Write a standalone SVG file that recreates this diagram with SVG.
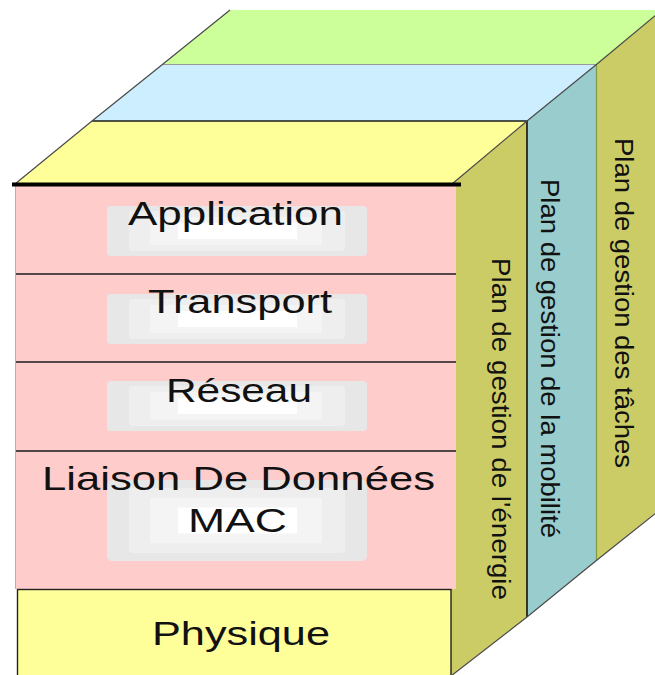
<svg xmlns="http://www.w3.org/2000/svg" xmlns:xlink="http://www.w3.org/1999/xlink" width="655" height="675" viewBox="0 0 655 675">
  <style>
    .lbl { font-family: "Liberation Sans", Arial, sans-serif; font-size: 34px; fill: #111; }
    .vlbl { font-family: "Liberation Sans", Arial, sans-serif; font-size: 25px; fill: #111; }
    .diag { fill: none; stroke: #4a4a4a; stroke-width: 1.2; }
    .sep { stroke: #1a1a1a; stroke-width: 1.3; }
  </style>
  <defs>
    <!-- soft grey plate shown behind each layer name -->
    <g id="softbox">
      <rect x="107" y="0" width="260" height="50" rx="4" fill="#e7e7e7"/>
      <rect x="129" y="5" width="216" height="40" rx="3" fill="#eeeeee"/>
      <rect x="150" y="11" width="172" height="28" rx="2" fill="#f4f4f4"/>
      <rect x="178" y="17" width="119" height="16" fill="#ffffff"/>
    </g>
  </defs>

  <rect width="655" height="675" fill="#ffffff"/>

  <!-- top faces of the three planes -->
  <polygon id="top-taches" points="163,64 230,10 662,10 597,64" fill="#ccff99"/>
  <polygon id="top-mobilite" points="92,121 163,64 597,64 527,121" fill="#cceeff"/>
  <polygon id="top-energie" points="15,184 92,121 527,121 452,184" fill="#ffff99"/>

  <!-- side planes -->
  <g id="plane-taches">
    <polygon points="597,64 662,10 655,10 655,513 597,560" fill="#cccc66"/>
    <text class="vlbl" transform="translate(615,138) rotate(90)" textLength="330" lengthAdjust="spacingAndGlyphs">Plan de gestion des tâches</text>
  </g>
  <g id="plane-mobilite">
    <polygon points="527,121 597,64 597,560 527,617" fill="#99cccc"/>
    <text class="vlbl" transform="translate(541,179) rotate(90)" textLength="359" lengthAdjust="spacingAndGlyphs">Plan de gestion de la mobilité</text>
  </g>
  <g id="plane-energie">
    <polygon points="452,184 527,121 527,617 451,676 451,184" fill="#cccc66"/>
    <text class="vlbl" transform="translate(492,258) rotate(90)" textLength="342" lengthAdjust="spacingAndGlyphs">Plan de gestion de l'énergie</text>
  </g>

  <!-- front stack of protocol layers -->
  <g id="layer-application">
    <rect x="15" y="186" width="441" height="88" fill="#ffcccc"/>
    <use xlink:href="#softbox" transform="translate(0,206)"/>
    <text class="lbl" x="128" y="225" textLength="215" lengthAdjust="spacingAndGlyphs">Application</text>
  </g>
  <g id="layer-transport">
    <rect x="15" y="274" width="441" height="88" fill="#ffcccc"/>
    <use xlink:href="#softbox" transform="translate(0,294)"/>
    <text class="lbl" x="148" y="313" textLength="184" lengthAdjust="spacingAndGlyphs">Transport</text>
  </g>
  <g id="layer-reseau">
    <rect x="15" y="362" width="441" height="89" fill="#ffcccc"/>
    <use xlink:href="#softbox" transform="translate(0,381)"/>
    <text class="lbl" x="166" y="402" textLength="146" lengthAdjust="spacingAndGlyphs">Réseau</text>
  </g>
  <g id="layer-liaison">
    <rect x="15" y="451" width="441" height="138" fill="#ffcccc"/>
    <use xlink:href="#softbox" transform="translate(0,480) scale(1,1.62)"/>
    <text class="lbl" x="42" y="490" textLength="393" lengthAdjust="spacingAndGlyphs">Liaison De Données</text>
    <text class="lbl" x="188" y="532" textLength="99" lengthAdjust="spacingAndGlyphs">MAC</text>
  </g>
  <g id="layer-physique">
    <rect x="17.5" y="589.5" width="433.5" height="90" fill="#ffff99" stroke="#222" stroke-width="1.4"/>
    <text class="lbl" x="152" y="645" textLength="178" lengthAdjust="spacingAndGlyphs">Physique</text>
  </g>

  <!-- outline edges of the block -->
  <g id="edges">
    <line x1="15.5" y1="186" x2="15.5" y2="589" stroke="#b0b0b0" stroke-width="1"/>
    <line class="sep" x1="16" y1="274" x2="456" y2="274"/>
    <line class="sep" x1="16" y1="362" x2="456" y2="362"/>
    <line class="sep" x1="16" y1="451" x2="456" y2="451"/>
    <line x1="92" y1="121" x2="527" y2="121" stroke="#1a1a1a" stroke-width="1.5"/>
    <line x1="163" y1="64.5" x2="597" y2="64.5" stroke="#9a9a9a" stroke-width="1.2"/>
    <line x1="527" y1="121" x2="527" y2="617" stroke="#111" stroke-width="1.6"/>
    <line x1="596.5" y1="64" x2="596.5" y2="560" stroke="#7f9a45" stroke-width="1.2"/>
    <polyline class="diag" points="15,184 92,121 163,64 230,10"/>
    <polyline class="diag" points="452,184 527,121 597,64 662,10"/>
    <polyline class="diag" points="451,676 527,617 597,560 656,513"/>
    <line x1="12" y1="184.5" x2="461" y2="184.5" stroke="#000" stroke-width="4"/>
  </g>
</svg>
